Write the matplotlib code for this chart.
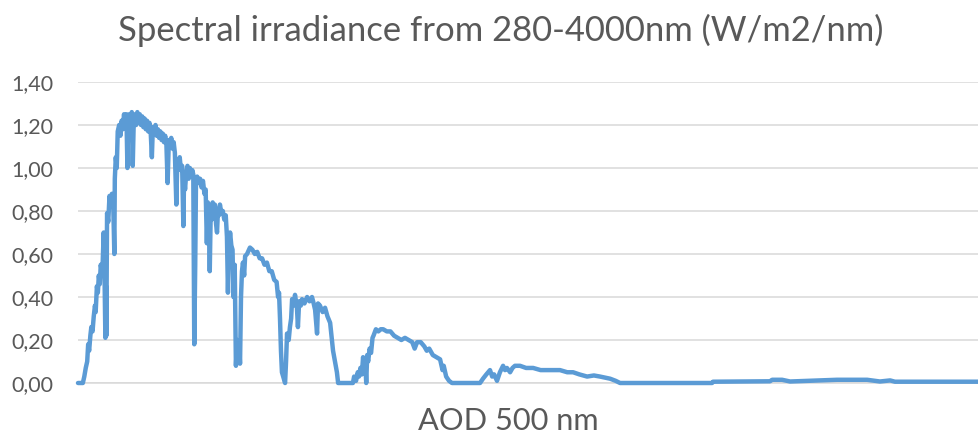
import matplotlib
matplotlib.use("Agg")
import matplotlib.pyplot as plt
from matplotlib.ticker import FuncFormatter

# spectrum: wavelength (nm), irradiance (W/m2/nm)
wavelength = [
    280, 300, 306, 312, 318, 322, 326, 331, 335, 340, 345, 350, 353, 358,
    362, 366, 370, 374, 378, 382, 386, 389, 393, 396, 397, 400, 405, 410,
    415, 420, 425, 430, 432, 436, 440, 444, 450, 455, 460, 465, 470, 475,
    480, 484, 487, 492, 497, 502, 506, 510, 515, 520, 525, 530, 535, 540,
    545, 550, 555, 560, 565, 570, 575, 580, 585, 589, 595, 600, 605, 610,
    615, 620, 625, 630, 635, 640, 645, 650, 655, 660, 665, 670, 675, 680,
    686, 690, 695, 700, 705, 710, 715, 718, 722, 727, 732, 737, 742, 747,
    752, 756, 760, 764, 767, 772, 778, 784, 790, 796, 802, 807, 812, 816,
    820, 824, 828, 832, 836, 840, 845, 850, 854, 858, 862, 866, 872, 878,
    884, 890, 895, 899, 903, 908, 913, 918, 922, 927, 932, 937, 941, 945,
    949, 953, 957, 961, 966, 970, 978, 990, 1000, 1010, 1020, 1030, 1040,
    1050, 1060, 1070, 1080, 1090, 1100, 1106, 1110, 1114, 1118, 1122,
    1135, 1139, 1143, 1150, 1155, 1160, 1164, 1170, 1176, 1184, 1188,
    1193, 1200, 1205, 1215, 1226, 1236, 1246, 1253, 1259, 1267, 1271,
    1279, 1290, 1300, 1310, 1321, 1333, 1349, 1354, 1415, 1420, 1428,
    1435, 1440, 1446, 1452, 1457, 1462, 1466, 1470, 1474, 1478, 1484,
    1490, 1496, 1500, 1510, 1520, 1530, 1540, 1555, 1570, 1585, 1600,
    1615, 1630, 1645, 1660, 1670, 1680, 1695, 1710, 1720, 1730, 1745,
    1760, 1775, 1785, 1790, 1800, 1812, 1824, 1940, 1952, 1966, 1981,
    1990, 1998, 2010, 2022, 2035, 2043, 2051, 2064, 2074, 2084, 2105,
    2130, 2159, 2190, 2216, 2245, 2270, 2300, 2324, 2350, 2382, 2410,
    2435, 2455, 2477, 2500, 2518, 2898, 2902, 3137, 3146, 3187, 3220,
    3414, 3538, 3591, 3633, 3653, 4000,
]
irradiance = [
    0.00, 0.00, 0.03, 0.07, 0.10, 0.18, 0.15, 0.22, 0.26, 0.24, 0.31, 0.36,
    0.33, 0.45, 0.42, 0.50, 0.46, 0.55, 0.52, 0.56, 0.70, 0.55, 0.21, 0.45,
    0.22, 0.79, 0.75, 0.87, 0.83, 0.88, 0.86, 0.60, 0.95, 1.05, 1.00, 1.17,
    1.20, 1.15, 1.22, 1.18, 1.25, 1.20, 1.25, 1.00, 1.20, 1.25, 1.19, 1.26,
    1.01, 1.21, 1.25, 1.20, 1.26, 1.21, 1.25, 1.20, 1.24, 1.19, 1.23, 1.18,
    1.22, 1.17, 1.21, 1.17, 1.05, 1.19, 1.16, 1.20, 1.15, 1.18, 1.14, 1.17,
    1.13, 1.16, 1.12, 1.15, 1.11, 0.93, 1.13, 1.10, 1.14, 1.09, 1.12, 1.07,
    0.83, 1.04, 1.00, 1.05, 0.99, 1.01, 0.73, 0.96, 0.90, 0.98, 1.01, 0.95,
    1.00, 0.96, 0.99, 0.97, 0.18, 0.55, 0.92, 0.96, 0.93, 0.95, 0.91, 0.94,
    0.88, 0.90, 0.65, 0.84, 0.80, 0.52, 0.80, 0.76, 0.84, 0.79, 0.83, 0.74,
    0.70, 0.81, 0.78, 0.83, 0.79, 0.80, 0.76, 0.78, 0.68, 0.42, 0.62, 0.70,
    0.64, 0.62, 0.40, 0.55, 0.08, 0.20, 0.10, 0.18, 0.09, 0.40, 0.52, 0.56,
    0.50, 0.59, 0.60, 0.63, 0.62, 0.60, 0.61, 0.58, 0.58, 0.55, 0.56, 0.52,
    0.52, 0.48, 0.47, 0.40, 0.42, 0.30, 0.15, 0.05, 0.00, 0.10, 0.23, 0.20,
    0.26, 0.30, 0.39, 0.36, 0.41, 0.35, 0.26, 0.38, 0.36, 0.39, 0.37, 0.40,
    0.38, 0.40, 0.37, 0.34, 0.23, 0.37, 0.36, 0.33, 0.35, 0.31, 0.28, 0.15,
    0.05, 0.00, 0.00, 0.03, 0.01, 0.05, 0.03, 0.07, 0.04, 0.12, 0.06, 0.10,
    0.00, 0.13, 0.10, 0.16, 0.14, 0.21, 0.22, 0.25, 0.24, 0.25, 0.25, 0.24,
    0.24, 0.22, 0.21, 0.20, 0.21, 0.20, 0.19, 0.16, 0.19, 0.19, 0.17, 0.15,
    0.16, 0.13, 0.12, 0.11, 0.06, 0.08, 0.03, 0.01, 0.00, 0.00, 0.02, 0.04,
    0.06, 0.03, 0.04, 0.01, 0.05, 0.08, 0.06, 0.07, 0.05, 0.07, 0.08, 0.08,
    0.07, 0.07, 0.06, 0.06, 0.06, 0.06, 0.05, 0.05, 0.04, 0.03, 0.035, 0.03,
    0.025, 0.02, 0.01, 0.00, 0.00, 0.006, 0.008, 0.015, 0.015, 0.007, 0.015,
    0.015, 0.007, 0.012, 0.006, 0.006,
]
y_ticks = [0.0, 0.2, 0.4, 0.6, 0.8, 1.0, 1.2, 1.4]

title = "Spectral irradiance from 280-4000nm (W/m2/nm)"
x_title = "AOD 500 nm"

W, H = 979, 441
fig = plt.figure(figsize=(W / 100, H / 100), dpi=100)
ax = fig.add_axes([78 / W, 1 - 383 / H, (979 - 78) / W, (383 - 82) / H])

ax.plot(wavelength, irradiance, color="#5B9BD5", linewidth=3.2,
        solid_joinstyle="round", solid_capstyle="round", clip_on=False, zorder=3)

ax.set_xlim(280, 4000)
ax.set_ylim(0, 1.4)
ax.set_yticks(y_ticks)
ax.yaxis.set_major_formatter(FuncFormatter(lambda v, p: f"{v:.2f}".replace(".", ",")))
ax.set_xticks([])
ax.grid(axis="y", color="#D9D9D9", linewidth=1.1)
ax.set_axisbelow(True)
for s in ["top", "right", "left"]:
    ax.spines[s].set_visible(False)
ax.spines["bottom"].set_color("#D9D9D9")
ax.spines["bottom"].set_linewidth(1.1)
ax.tick_params(axis="y", length=0, pad=18, labelsize=15.5, labelcolor="#595959")
for lab in ax.get_yticklabels():
    lab.set_fontfamily("Lato")

t1 = fig.text(501 / W, 1 - 30 / H, title, ha="center", va="center",
              fontsize=22, color="#595959", family="Lato")
t2 = fig.text(508 / W, 1 - 421 / H, x_title, ha="center", va="center",
              fontsize=22, color="#595959", family="Lato")

# scale the two texts so their widths match the picture
r = fig.canvas.get_renderer()
for t, target in [(t1, 762), (t2, 180)]:
    w = t.get_window_extent(r).width
    t.set_fontsize(t.get_fontsize() * target / w)

fig.savefig("out.png", dpi=100)
